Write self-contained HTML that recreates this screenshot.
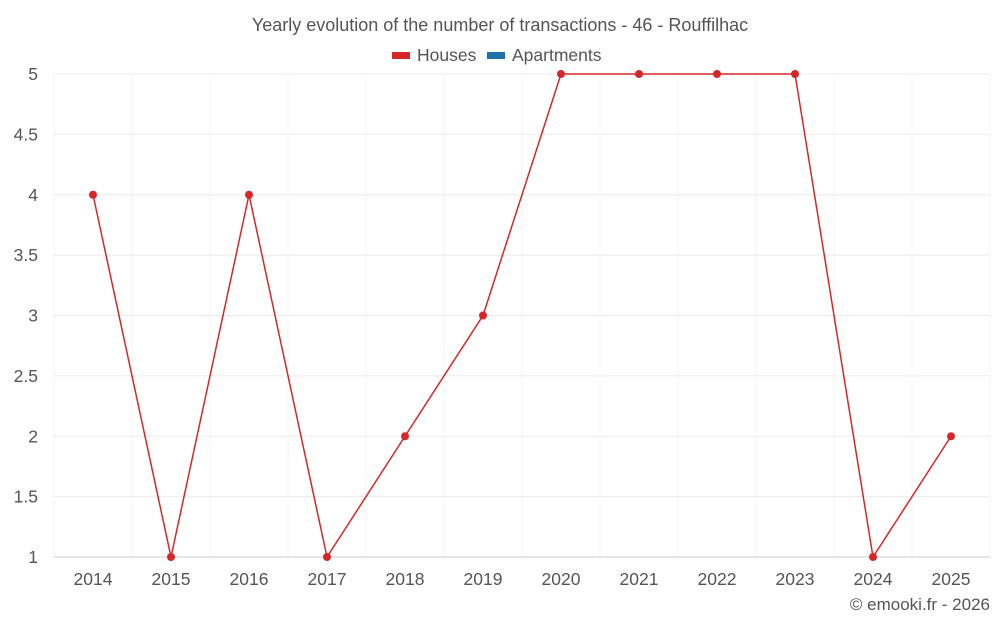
<!DOCTYPE html>
<html><head><meta charset="utf-8">
<style>
html,body{margin:0;padding:0;background:#fff;}
svg{display:block;font-family:"Liberation Sans",sans-serif;}
</style></head>
<body>
<svg width="1000" height="625" viewBox="0 0 1000 625">
<text x="500" y="31" text-anchor="middle" font-size="18" fill="#555">Yearly evolution of the number of transactions - 46 - Rouffilhac</text>
<g>
<rect x="392" y="52" width="18" height="7" fill="#d62728"/>
<text x="417" y="61" font-size="17.5" fill="#555">Houses</text>
<rect x="487" y="52" width="18" height="7" fill="#1f6fa8"/>
<text x="512" y="61" font-size="17.5" fill="#555">Apartments</text>
</g>
<g id="grid"></g>
<g id="axes"></g>
<g id="series"></g>
<text x="990" y="610" text-anchor="end" font-size="17" fill="#555">© emooki.fr - 2026</text>
</svg>
<script>
const categories = ["2014","2015","2016","2017","2018","2019","2020","2021","2022","2023","2024","2025"];
const housesValues = [4,1,4,1,2,3,5,5,5,5,1,2];
const yTicks = [1,1.5,2,2.5,3,3.5,4,4.5,5];
const yTickLabels = ["1","1.5","2","2.5","3","3.5","4","4.5","5"];

const NS="http://www.w3.org/2000/svg";
const plotLeft=54,plotRight=990,plotTop=74,plotBottom=557,yMin=1,yMax=5;
const band=(plotRight-plotLeft)/categories.length;
const xPos=i=>plotLeft+band*(i+0.5);
const yPos=v=>plotBottom-(v-yMin)/(yMax-yMin)*(plotBottom-plotTop);
function mk(tag,attrs,parent){const e=document.createElementNS(NS,tag);for(const k in attrs)e.setAttribute(k,attrs[k]);parent.appendChild(e);return e;}
const grid=document.getElementById('grid'),axes=document.getElementById('axes'),series=document.getElementById('series');
for(let i=0;i<=categories.length;i++){
  const x=plotLeft+band*i;
  const l=mk('line',{x1:x,x2:x,y1:plotTop,y2:plotBottom,stroke:'#f3f3f3','stroke-width':1},grid);
  
  
}
yTicks.forEach((t,i)=>{
  const l=mk('line',{x1:plotLeft,x2:plotRight,y1:yPos(t),y2:yPos(t),stroke:i===0?'#ccc':'#ebebeb','stroke-width':1},grid);
  
  
  const tx=mk('text',{x:38,y:yPos(t)+6,'text-anchor':'end','font-size':17.5,fill:'#555'},axes);
  tx.textContent=yTickLabels[i];
  
  
});
categories.forEach((c,i)=>{
  const tx=mk('text',{x:xPos(i),y:585,'text-anchor':'middle','font-size':17.5,fill:'#555'},axes);
  tx.textContent=c;
  
  
});
const pts=housesValues.map((v,i)=>xPos(i)+','+yPos(v)).join(' ');
const line=mk('polyline',{points:pts,fill:'none',stroke:'#d62728','stroke-width':1.5},series);


housesValues.forEach((v,i)=>{
  const c=mk('circle',{cx:xPos(i),cy:yPos(v),r:4,fill:'#d62728'},series);
  
  
});
</script>
</body></html>
